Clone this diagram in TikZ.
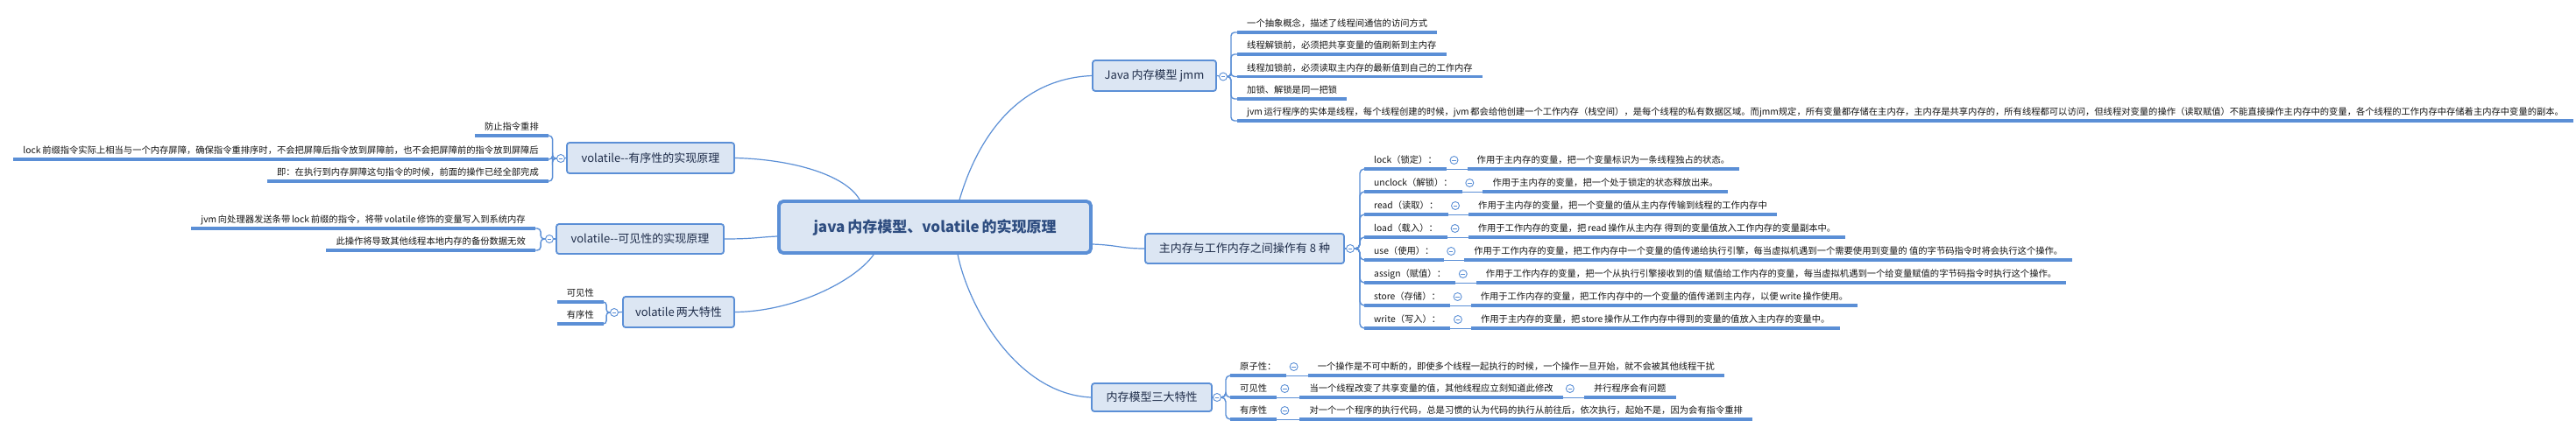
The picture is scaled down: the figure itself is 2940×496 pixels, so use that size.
\documentclass[tikz,border=0pt]{standalone}
\usepackage{fontspec}
\setmainfont{Noto Sans CJK SC}
\usetikzlibrary{calc}
\definecolor{mblue}{HTML}{5B8FD6}
\definecolor{mfill}{HTML}{DCE6F3}
\definecolor{ntext}{HTML}{1F2D4A}
\definecolor{ctext}{HTML}{2E4D80}
\definecolor{ltext}{HTML}{141414}
\begin{document}
\begin{tikzpicture}[x=1pt,y=-1pt,
 topic/.style={draw=mblue, line width=1.8pt, fill=mfill, rounded corners=3pt, text=ntext, font=\fontsize{13}{15}\selectfont, inner sep=0pt},
 centraltopic/.style={topic, line width=3.8pt, rounded corners=5pt, text=ctext, font=\fontsize{17}{20}\selectfont\bfseries},
 leaf/.style={inner xsep=11pt, inner ysep=3.5pt, text height=8pt, text depth=2.5pt, font=\fontsize{10.3}{12}\selectfont, text=ltext},
 ul/.style={draw=mblue, line width=3.3pt},
 conn/.style={draw=mblue, line width=1.2pt},
 brk/.style={draw=mblue, line width=1.4pt},
 thin/.style={draw=mblue, line width=1pt},
 fold/.style={circle, draw=mblue, line width=0.9pt, fill=white, minimum size=9pt, inner sep=0pt,
   path picture={\draw[mblue, line width=0.8pt] ([xshift=-2.3pt]path picture bounding box.center) -- ([xshift=2.3pt]path picture bounding box.center);}},
]
\fill[white] (0,0) rectangle (2940,496);
\useasboundingbox (0,0) rectangle (2940,496);

% main topics
\node[centraltopic, minimum width=356pt, minimum height=59pt] (c) at (1067,259.5) {java\,内存模型、volatile\,的实现原理};
\node[topic, minimum width=191pt, minimum height=35pt] (ord) at (742.5,180.5) {volatile-{}-有序性的实现原理};
\node[topic, minimum width=191pt, minimum height=34pt] (vis) at (730.5,273) {volatile-{}-可见性的实现原理};
\node[topic, minimum width=127pt, minimum height=35pt] (two) at (774.5,356.5) {volatile\,两大特性};
\node[topic, minimum width=141pt, minimum height=35pt] (jmm) at (1317.5,86.5) {Java 内存模型 jmm};
\node[topic, minimum width=227pt, minimum height=34pt] (ops) at (1420.5,284) {主内存与工作内存之间操作有 8 种};
\node[topic, minimum width=137pt, minimum height=32pt] (three) at (1314.5,454) {内存模型三大特性};

% main connectors
\draw[conn] (ord.east) .. controls (905,182) and (965,200) .. ($(c.north west)+(94,0)$);
\draw[conn] (vis.east) .. controls (860,273) and (865,271) .. ($(c.west)+(0,10.5)$);
\draw[conn] (two.east) .. controls (905,356) and (975,322) .. ($(c.south west)+(110,0)$);
\draw[conn] ($(c.north west)+(208,0)$) .. controls (1115,160) and (1160,90) .. (jmm.west);
\draw[conn] ($(c.east)+(0,19.5)$) .. controls (1275,280) and (1280,284) .. (ops.west);
\draw[conn] ($(c.south west)+(206,0)$) .. controls (1105,350) and (1160,450) .. (three.west);

% fold buttons
\node[fold] (fo) at (640,181) {};
\node[fold] (fv) at (627,273) {};
\node[fold] (ft) at (701,357) {};
\node[fold] (fj) at (1396,87.5) {};
\node[fold] (fops) at (1541,284) {};
\node[fold] (fth) at (1389,454) {};
\draw[conn] (ord.west) -- (fo);
\draw[conn] (vis.west) -- (fv);
\draw[conn] (two.west) -- (ft);
\draw[conn] (jmm.east) -- (fj);
\draw[conn] (ops.east) -- (fops);
\draw[conn] (three.east) -- (fth);

% volatile ordering leaves
\node[leaf, anchor=south east] (o1) at (626,155) {防止指令重排};
\node[leaf, anchor=south east] (o2) at (626,182) {lock\,前缀指令实际上相当与一个内存屏障，确保指令重排序时，不会把屏障后指令放到屏障前，也不会把屏障前的指令放到屏障后};
\node[leaf, anchor=south east] (o3) at (626,207) {即：在执行到内存屏障这句指令的时候，前面的操作已经全部完成};
\foreach \n in {o1,o2,o3} \draw[brk, rounded corners=4pt] (fo.west) -- ++(-4.5,0) |- (\n.south east);

% volatile visibility leaves
\node[leaf, anchor=south east] (v1) at (611,261) {jvm\,向处理器发送条带\,lock\,前缀的指令，将带\,volatile\,修饰的变量写入到系统内存};
\node[leaf, anchor=south east] (v2) at (611,286) {此操作将导致其他线程本地内存的备份数据无效};
\foreach \n in {v1,v2} \draw[brk, rounded corners=4pt] (fv.west) -- ++(-5,0) |- (\n.south east);

% two features leaves
\node[leaf, anchor=south east] (t1) at (689,345) {可见性};
\node[leaf, anchor=south east] (t2) at (689,370) {有序性};
\foreach \n in {t1,t2} \draw[brk, rounded corners=3.5pt] (ft.west) -- ++(-4,0) |- (\n.south east);

% jmm leaves
\node[leaf, anchor=south west] (j1) at (1412,37) {一个抽象概念，描述了线程间通信的访问方式};
\node[leaf, anchor=south west] (j2) at (1412,62) {线程解锁前，必须把共享变量的值刷新到主内存};
\node[leaf, anchor=south west] (j3) at (1412,87.5) {线程加锁前，必须读取主内存的最新值到自己的工作内存};
\node[leaf, anchor=south west] (j4) at (1412,113) {加锁、解锁是同一把锁};
\node[leaf, anchor=south west] (j5) at (1412,138) {jvm\,运行程序的实体是线程，每个线程创建的时候，jvm\,都会给他创建一个工作内存（栈空间），是每个线程的私有数据区域。而jmm规定，所有变量都存储在主内存，主内存是共享内存的，所有线程都可以访问，但线程对变量的操作（读取赋值）不能直接操作主内存中的变量，各个线程的工作内存中存储着主内存中变量的副本。};
\foreach \n in {j1,j2,j3,j4,j5} \draw[brk, rounded corners=4pt] (fj.east) -- ++(4,0) |- (\n.south west);

% eight operations
\newcommand\oprow[4]{%
 \node[leaf, anchor=south west] (l#1) at (1557,#2) {#3};
 \node[leaf, anchor=south west] (d#1) at ($(l#1.south east)+(23.5,0)$) {#4};
 \node[fold] (f#1) at ($(l#1.south east)+(8.5,-10)$) {};
 \draw[thin] (l#1.south east) -- (d#1.south west);
 \draw[brk, rounded corners=5pt] (fops.east) -- ++(6,0) |- (l#1.south west);
}
\oprow{1}{193}{lock（锁定）：}{作用于主内存的变量，把一个变量标识为一条线程独占的状态。}
\oprow{2}{219}{unclock（解锁）：}{作用于主内存的变量，把一个处于锁定的状态释放出来。}
\oprow{3}{245}{read（读取）：}{作用于主内存的变量，把一个变量的值从主内存传输到线程的工作内存中}
\oprow{4}{271}{load（载入）：}{作用于工作内存的变量，把\,read\,操作从主内存 得到的变量值放入工作内存的变量副本中。}
\oprow{5}{297}{use（使用）：}{作用于工作内存的变量，把工作内存中一个变量的值传递给执行引擎，每当虚拟机遇到一个需要使用到变量的 值的字节码指令时将会执行这个操作。}
\oprow{6}{323}{assign（赋值）：}{作用于工作内存的变量，把一个从执行引擎接收到的值 赋值给工作内存的变量，每当虚拟机遇到一个给变量赋值的字节码指令时执行这个操作。}
\oprow{7}{349}{store（存储）：}{作用于工作内存的变量，把工作内存中的一个变量的值传递到主内存，以便\,write\,操作使用。}
\oprow{8}{375}{write（写入）：}{作用于主内存的变量，把\,store\,操作从工作内存中得到的变量的值放入主内存的变量中。}

% three features
\node[leaf, anchor=south west] (a1) at (1404,429) {原子性：};
\node[leaf, anchor=south west] (a1d) at ($(a1.south east)+(25,0)$) {一个操作是不可中断的，即使多个线程一起执行的时候，一个操作一旦开始，就不会被其他线程干扰};
\node[fold] (fa1) at ($(a1.south east)+(9,-10)$) {};
\draw[thin] (a1.south east) -- (a1d.south west);
\node[leaf, anchor=south west] (a2) at (1404,454) {可见性};
\node[leaf, anchor=south west] (a2d) at ($(a2.south east)+(26,0)$) {当一个线程改变了共享变量的值，其他线程应立刻知道此修改};
\node[fold] (fa2) at ($(a2.south east)+(9,-10)$) {};
\draw[thin] (a2.south east) -- (a2d.south west);
\node[leaf, anchor=south west] (a2e) at ($(a2d.south east)+(24,0)$) {并行程序会有问题};
\node[fold] (fa2d) at ($(a2d.south east)+(8,-10)$) {};
\draw[thin] (a2d.south east) -- (a2e.south west);
\node[leaf, anchor=south west] (a3) at (1404,479) {有序性};
\node[leaf, anchor=south west] (a3d) at ($(a3.south east)+(26,0)$) {对一个一个程序的执行代码，总是习惯的认为代码的执行从前往后，依次执行，起始不是，因为会有指令重排};
\node[fold] (fa3) at ($(a3.south east)+(9,-10)$) {};
\draw[thin] (a3.south east) -- (a3d.south west);
\foreach \n in {a1,a2,a3} \draw[brk, rounded corners=5pt] (fth.east) -- ++(5,0) |- (\n.south west);

% underlines
\foreach \n in {o1,o2,o3,v1,v2,t1,t2,j1,j2,j3,j4,j5,l1,l2,l3,l4,l5,l6,l7,l8,d1,d2,d3,d4,d5,d6,d7,d8,a1,a1d,a2,a2d,a2e,a3,a3d}
  \draw[ul] (\n.south west) -- (\n.south east);
\end{tikzpicture}
\end{document}
